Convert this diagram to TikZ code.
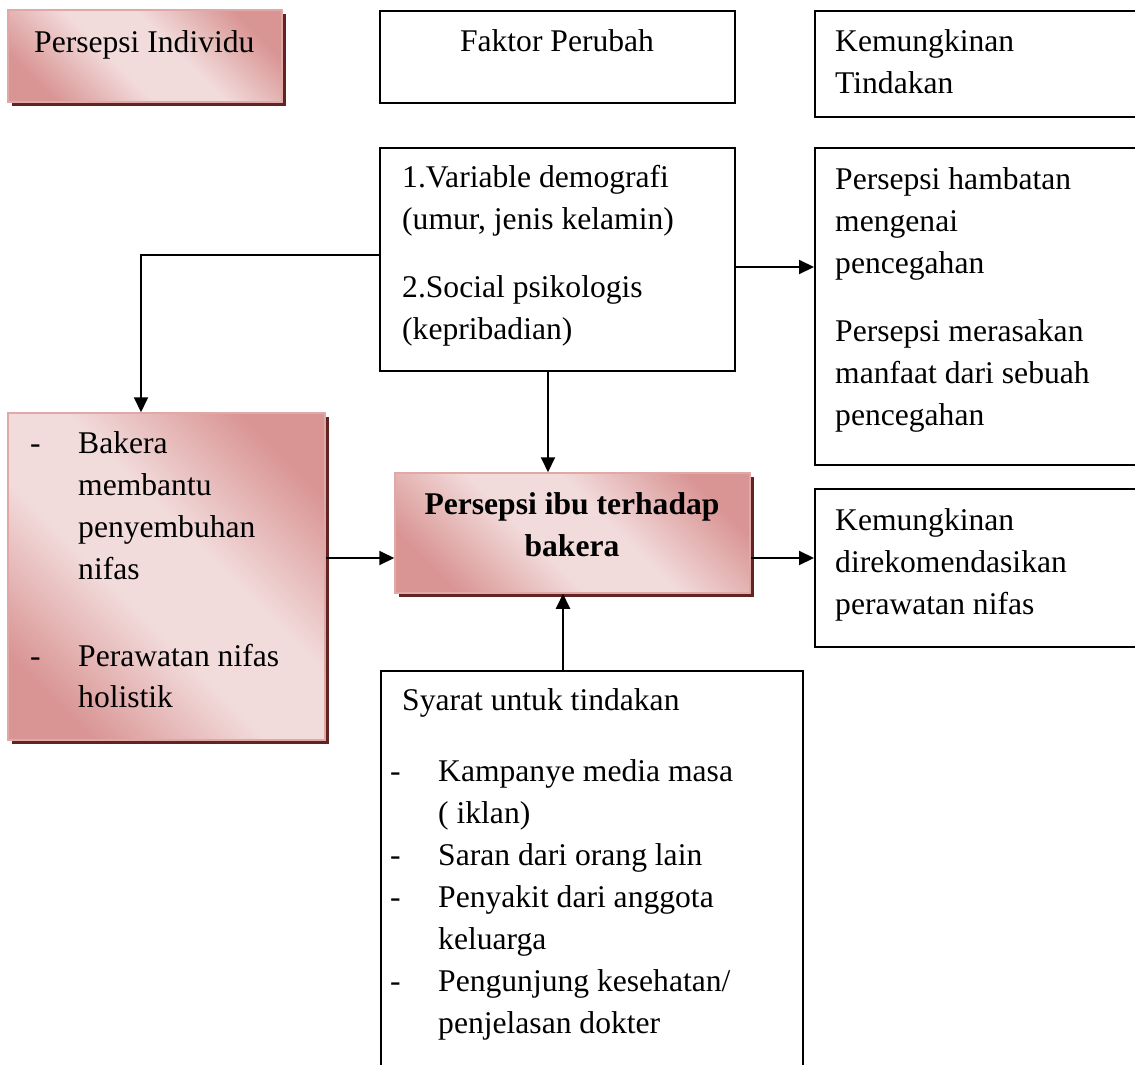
\documentclass[tikz,border=0pt]{standalone}
\usepackage{fontspec}
\setmainfont{Liberation Serif}
\usetikzlibrary{arrows.meta,shadows}
\definecolor{pinkdark}{HTML}{D99594}
\definecolor{pinklight}{HTML}{F2DBDB}
\definecolor{pinkedge}{HTML}{E0A9A8}
\definecolor{shadowred}{HTML}{622423}
\pgfdeclareverticalshading{pinkdiag}{100bp}{color(0bp)=(pinkdark); color(24bp)=(pinkdark); color(43bp)=(pinklight); color(57bp)=(pinklight); color(76bp)=(pinkdark); color(100bp)=(pinkdark)}
\tikzset{
  plainbox/.style={draw=black, line width=2pt, inner sep=0pt, fill=white},
  shadebox/.style={draw=pinkedge, line width=1.5pt, inner sep=0pt,
    shading=pinkdiag, shading angle=135,
    drop shadow={fill=shadowred, opacity=1, shadow xshift=4pt, shadow yshift=-4pt}},
  txt/.style={inner sep=0pt, anchor=base west, font=\fontsize{31.6}{42}\selectfont},
  btxt/.style={inner sep=0pt, anchor=base, font=\fontsize{31.6}{42}\selectfont\bfseries},
  arr/.style={line width=2pt, -{Triangle[length=15pt,width=14pt]}}
}
\begin{document}
\begin{tikzpicture}[x=1pt, y=-1pt]
\useasboundingbox (0,0) rectangle (1135,1065);
\clip (0,0) rectangle (1135,1065);
% boxes
\node[shadebox, minimum width=274pt, minimum height=92pt] (indiv) at (145,56) {};
\node[plainbox, minimum width=355pt, minimum height=92pt] (faktor) at (557.5,57) {};
\node[plainbox, minimum width=330pt, minimum height=106pt] (kemung) at (980,64) {};
\node[plainbox, minimum width=355pt, minimum height=223pt] (var) at (557.5,259.5) {};
\node[plainbox, minimum width=330pt, minimum height=317pt] (hamb) at (980,306.5) {};
\node[shadebox, minimum width=317pt, minimum height=327pt] (leftb) at (166.5,576.5) {};
\node[shadebox, minimum width=355pt, minimum height=120pt] (ibu) at (572.5,533) {};
\node[plainbox, minimum width=330pt, minimum height=158pt] (rekom) at (980,568) {};
\node[plainbox, minimum width=422pt, minimum height=409pt] (syarat) at (592,875.5) {};
% helper coordinates
\coordinate (midy) at (0,558);
\coordinate (upx) at (563,0);
% connectors
\draw[arr] ([yshift=4.5pt]var.west) -| ([xshift=-25.5pt]leftb.north);
\draw[arr] ([yshift=-7.5pt]var.east) -- ([yshift=-7.5pt]var.east -| hamb.west);
\draw[arr] ([xshift=-9.5pt]var.south) -- ([xshift=-9.5pt]var.south |- ibu.north);
\draw[arr] (leftb.east |- midy) -- (ibu.west |- midy);
\draw[arr] (ibu.east |- midy) -- (rekom.west |- midy);
\draw[arr] (syarat.north -| upx) -- (ibu.south -| upx);
% texts
\node[txt] (t1) at (34,53) {Persepsi Individu};
\node[txt, anchor=base] (t2) at (557,52) {Faktor Perubah};
\node[txt] (t3) at (835,52) {Kemungkinan};
\node[txt] (t4) at (835,93) {Tindakan};
\node[txt] (v1) at (402,187) {1.Variable demografi};
\node[txt] (v2) at (402,229) {(umur, jenis kelamin)};
\node[txt] (v3) at (402,297) {2.Social psikologis};
\node[txt] (v4) at (402,339) {(kepribadian)};
\node[txt] (h1) at (835,189) {Persepsi hambatan};
\node[txt] (h2) at (835,231) {mengenai};
\node[txt] (h3) at (835,273) {pencegahan};
\node[txt] (h4) at (835,341) {Persepsi merasakan};
\node[txt] (h5) at (835,383) {manfaat dari sebuah};
\node[txt] (h6) at (835,425) {pencegahan};
\node[txt] (r1) at (835,530) {Kemungkinan};
\node[txt] (r2) at (835,572) {direkomendasikan};
\node[txt] (r3) at (835,614) {perawatan nifas};
\node[txt] (ld1) at (30,453) {-};
\node[txt] (l1) at (78,453) {Bakera};
\node[txt] (l2) at (78,495) {membantu};
\node[txt] (l3) at (78,537) {penyembuhan};
\node[txt] (l4) at (78,579) {nifas};
\node[txt] (ld2) at (30,666) {-};
\node[txt] (l5) at (78,666) {Perawatan nifas};
\node[txt] (l6) at (78,707) {holistik};
\node[btxt] (b1) at (572,514) {Persepsi ibu terhadap};
\node[btxt] (b2) at (572,556) {bakera};
\node[txt] (s0) at (402,710) {Syarat untuk tindakan};
\node[txt] (sd1) at (390,781) {-};
\node[txt] (s1) at (438,781) {Kampanye media masa};
\node[txt] (s2) at (438,823) {( iklan)};
\node[txt] (sd2) at (390,865) {-};
\node[txt] (s3) at (438,865) {Saran dari orang lain};
\node[txt] (sd3) at (390,907) {-};
\node[txt] (s4) at (438,907) {Penyakit dari anggota};
\node[txt] (s5) at (438,949) {keluarga};
\node[txt] (sd4) at (390,991) {-};
\node[txt] (s6) at (438,991) {Pengunjung kesehatan/};
\node[txt] (s7) at (438,1033) {penjelasan dokter};
\end{tikzpicture}
\end{document}
